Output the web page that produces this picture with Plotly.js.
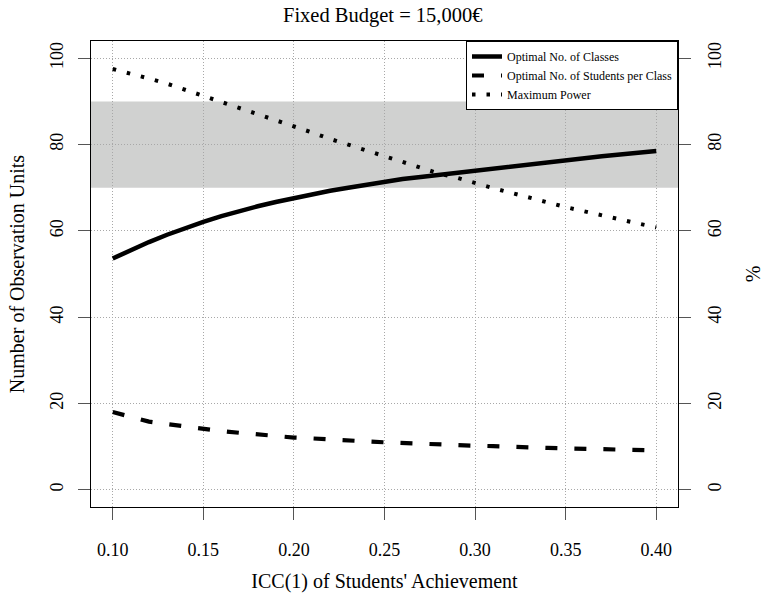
<!DOCTYPE html>
<html>
<head>
<meta charset="utf-8">
<script src="https://cdn.plot.ly/plotly-3.0.1.min.js"></script>
<style>html,body{margin:0;padding:0;background:#fff;}#chart{width:764px;height:597px;}</style>
</head>
<body>
<div id="chart"></div>
<script>
// ICC(1) values
const icc = [0.10,0.11,0.12,0.13,0.14,0.15,0.16,0.17,0.18,0.19,0.20,0.21,0.22,0.23,0.24,0.25,
             0.26,0.27,0.28,0.29,0.30,0.31,0.32,0.33,0.34,0.35,0.36,0.37,0.38,0.39,0.40];
// Optimal number of classes
const nClasses = [53.6,55.6,57.4,59.1,60.7,62.1,63.4,64.6,65.7,66.7,67.6,68.5,69.3,70.0,70.7,71.4,
                  72.0,72.5,73.0,73.5,73.95,74.5,75.0,75.5,76.0,76.5,76.9,77.3,77.7,78.1,78.5];
// Optimal number of students per class
const nStudents = [18.0,16.8,15.8,15.2,14.6,14.1,13.6,13.2,12.8,12.4,12.1,11.9,11.6,11.4,11.2,11.0,
                   10.8,10.6,10.5,10.3,10.2,10.1,9.9,9.8,9.7,9.6,9.5,9.4,9.3,9.2,9.1];
// Maximum power (%)
const maxPower = [97.5,96.5,95.3,94.1,92.7,91.4,89.9,88.5,87.0,85.6,84.2,82.8,81.3,80.0,78.6,77.3,
                  75.9,74.7,73.3,72.3,71.0,69.9,68.8,67.6,66.6,65.5,64.5,63.5,62.6,61.7,60.8];
// x tick labels
const xTicks = [0.10,0.15,0.20,0.25,0.30,0.35,0.40];
const xTickText = ["0.10","0.15","0.20","0.25","0.30","0.35","0.40"];
const yTicks = [0,20,40,60,80,100];
// target power band (%)
const bandLow = 70, bandHigh = 90;

const FONT = "Liberation Serif, Times New Roman, serif";

const traces = [
  {x: icc, y: nClasses, type: 'scatter', mode: 'lines', name: 'Optimal No. of Classes',
   line: {color: '#000', width: 4.5}},
  {x: icc, y: nStudents, type: 'scatter', mode: 'lines', name: 'Optimal No. of Students per Class',
   line: {color: '#000', width: 4.2, dash: '12px,17px'}},
  {x: icc, y: maxPower, type: 'scatter', mode: 'lines', name: 'Maximum Power', yaxis: 'y2',
   line: {color: '#000', width: 4, dash: '3.5px,11px'}}
];

const axisCommon = {
  ticks: 'outside', ticklen: 12, tickcolor: '#555', tickwidth: 1,
  showgrid: true, gridcolor: '#a8a8a8', griddash: '1px,2px', gridwidth: 1,
  zeroline: false, showline: true, mirror: true, linecolor: '#000', linewidth: 1,
  tickfont: {family: FONT, size: 18, color: '#000'}
};

const layout = {
  width: 764, height: 597,
  margin: {l: 91, r: 86, t: 41, b: 90},
  paper_bgcolor: '#fff', plot_bgcolor: '#fff',
  font: {family: FONT, color: '#000'},
  title: {text: 'Fixed Budget = 15,000€', font: {family: FONT, size: 20.5, color: '#000'},
          x: 0.497, xref: 'paper', xanchor: 'center', y: 1 - 15/597, yref: 'container', yanchor: 'middle'},
  xaxis: Object.assign({}, axisCommon, {
    range: [0.088, 0.412], tickvals: xTicks, ticktext: xTickText, ticklabelstandoff: 14,
    title: {text: "ICC(1) of Students' Achievement", font: {family: FONT, size: 20, color: '#000'}, standoff: 15}
  }),
  yaxis: Object.assign({}, axisCommon, {
    range: [-4, 104], tickvals: yTicks, tickangle: -90, ticklabelstandoff: 8,
    title: {text: 'Number of Observation Units', font: {family: FONT, size: 20, color: '#000'}, standoff: 16}
  }),
  yaxis2: Object.assign({}, axisCommon, {
    overlaying: 'y', side: 'right', range: [-4, 104], tickvals: yTicks, tickangle: -90,
    showgrid: false, ticklabelstandoff: 8,
    title: {text: '%', font: {family: FONT, size: 20, color: '#000'}, standoff: 27}
  }),
  shapes: [{type: 'rect', xref: 'paper', x0: 0, x1: 1, yref: 'y', y0: bandLow, y1: bandHigh,
            fillcolor: '#d0d1d0', line: {width: 0}, layer: 'below'}],
  legend: {x: 1, xanchor: 'right', y: 1, yanchor: 'top', bgcolor: '#fff', bordercolor: '#000', borderwidth: 1,
           font: {family: FONT, size: 12, color: '#000'}, itemwidth: 30, tracegroupgap: 0},
  showlegend: true
};

Plotly.newPlot('chart', traces, layout, {staticPlot: true, displayModeBar: false});
</script>
</body>
</html>
